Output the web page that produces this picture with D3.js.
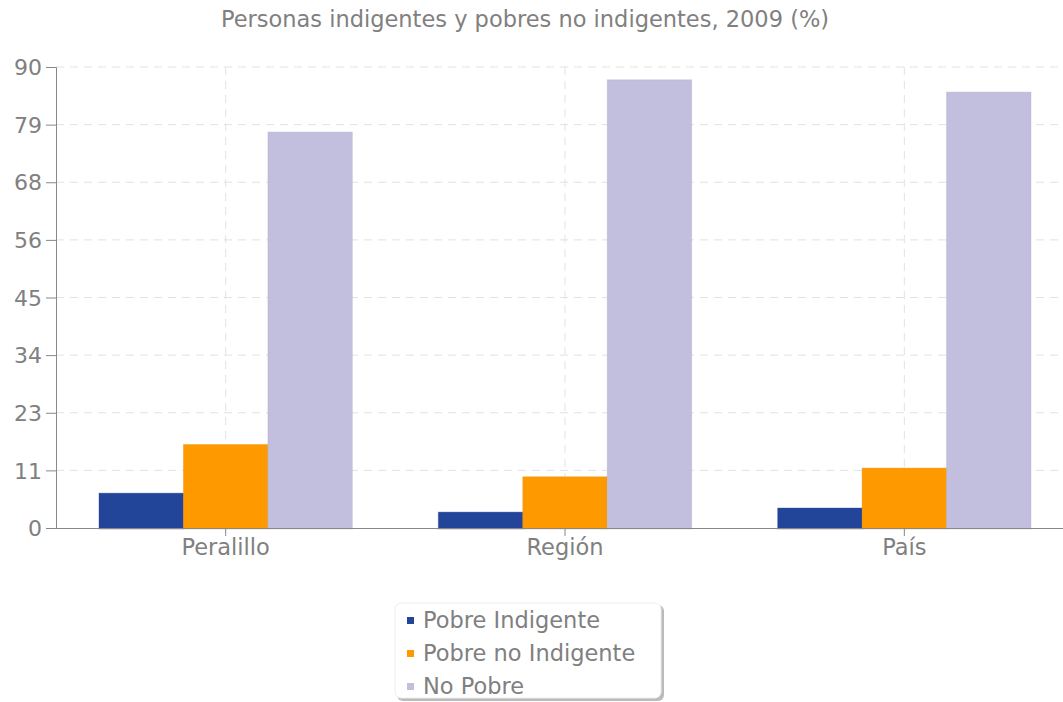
<!DOCTYPE html>
<html>
<head>
<meta charset="utf-8">
<script src="https://cdn.jsdelivr.net/npm/d3@7"></script>
<style>
  body { margin: 0; background: #fff; }
  text { font-family: "DejaVu Sans", Verdana, sans-serif; fill: #808080; }
</style>
</head>
<body>
<div id="chart"></div>
<script>
// Data
var categories = ["Peralillo", "Región", "País"];
var seriesNames = ["Pobre Indigente", "Pobre no Indigente", "No Pobre"];
var pobreIndigente = [6.8, 3.1, 3.9];
var pobreNoIndigente = [16.3, 10.0, 11.7];
var noPobre = [77.3, 87.5, 85.1];
var tickValues = [0, 11.25, 22.5, 33.75, 45, 56.25, 67.5, 78.75, 90];
var colors = ["#224499", "#ff9900", "#c2bedd"];

var series = [pobreIndigente, pobreNoIndigente, noPobre];

// Chart area
var svgWidth = 1063;
var svgHeight = 702;
var margin = { top: 67, right: -11, bottom: 174, left: 56 };
var width = svgWidth - margin.left - margin.right;
var height = svgHeight - margin.top - margin.bottom;

var svg = d3.select("#chart")
  .append("svg")
  .attr("width", svgWidth)
  .attr("height", svgHeight);

svg.append("text")
  .attr("x", 525)
  .attr("y", 27)
  .attr("text-anchor", "middle")
  .style("font-size", "22.5px")
  .text("Personas indigentes y pobres no indigentes, 2009 (%)");

var chartGroup = svg.append("g")
  .attr("transform", `translate(${margin.left}, ${margin.top})`);

// Scales
var x0 = d3.scaleBand()
  .domain(categories)
  .range([0, width])
  .paddingInner(0)
  .paddingOuter(0);

var x1 = d3.scaleBand()
  .domain(seriesNames)
  .range([43, x0.bandwidth() - 43]);

var y = d3.scaleLinear()
  .domain([0, 90])
  .range([height, 0]);

// Grid
chartGroup.append("g")
  .selectAll("line")
  .data(tickValues.slice(1))
  .enter()
  .append("line")
  .attr("x1", 0)
  .attr("x2", width)
  .attr("y1", d => y(d))
  .attr("y2", d => y(d))
  .attr("stroke", "#e2e2e2")
  .attr("stroke-dasharray", "8,6");

chartGroup.append("g")
  .selectAll("line")
  .data(categories)
  .enter()
  .append("line")
  .attr("x1", d => x0(d) + x0.bandwidth() / 2)
  .attr("x2", d => x0(d) + x0.bandwidth() / 2)
  .attr("y1", 0)
  .attr("y2", height)
  .attr("stroke", "#e2e2e2")
  .attr("stroke-dasharray", "8,6");

// Bars
var groups = chartGroup.selectAll(".cat")
  .data(categories)
  .enter()
  .append("g")
  .attr("class", "cat")
  .attr("transform", d => `translate(${x0(d)}, 0)`);

groups.selectAll("rect")
  .data(function(d, i) {
    return series.map(function(s, j) {
      return { name: seriesNames[j], value: s[i], color: colors[j] };
    });
  })
  .enter()
  .append("rect")
  .attr("x", d => x1(d.name))
  .attr("y", d => y(d.value))
  .attr("width", x1.bandwidth())
  .attr("height", d => height - y(d.value) + 1)
  .attr("fill", d => d.color)
  .attr("stroke", d => d3.color(d.color).darker(0.3))
  .attr("stroke-opacity", 0.35)
  .attr("stroke-width", 1);

// Axes
var leftAxis = d3.axisLeft(y)
  .tickValues(tickValues)
  .tickFormat(d3.format(".0f"))
  .tickSize(10)
  .tickPadding(4);

var yAxisG = chartGroup.append("g").call(leftAxis);
yAxisG.select(".domain").attr("stroke", "#888").attr("d", `M-10,0.5H0.5V${height}`);
yAxisG.selectAll(".tick line").attr("stroke", "#888").attr("x1", 0).attr("x2", -10);
yAxisG.selectAll(".tick text")
  .style("font-size", "22px")
  .attr("fill", "#888")
  .attr("dy", "0.35em");

var bottomAxis = d3.axisBottom(x0)
  .tickSize(8)
  .tickPadding(3);

var xAxisG = chartGroup.append("g")
  .attr("transform", `translate(0, ${height})`)
  .call(bottomAxis);
xAxisG.select(".domain").attr("stroke", "#888").attr("d", `M0,0.5H${width}`);
xAxisG.selectAll(".tick line").attr("stroke", "#888");
xAxisG.selectAll(".tick text")
  .style("font-size", "22.5px")
  .attr("fill", "#888");

// Legend
var legend = svg.append("g").attr("transform", "translate(395, 603)");

legend.append("rect")
  .attr("x", 2)
  .attr("y", 2)
  .attr("width", 267)
  .attr("height", 96)
  .attr("rx", 6)
  .attr("fill", "#bbb");

legend.append("rect")
  .attr("x", 0)
  .attr("y", 0)
  .attr("width", 266)
  .attr("height", 95)
  .attr("rx", 6)
  .attr("fill", "#fff")
  .attr("stroke", "#eee");

var items = legend.selectAll(".item")
  .data(seriesNames)
  .enter()
  .append("g")
  .attr("class", "item")
  .attr("transform", (d, i) => `translate(12, ${17 + i * 33})`);

items.append("rect")
  .attr("x", 0)
  .attr("y", -3)
  .attr("width", 7)
  .attr("height", 7)
  .attr("fill", (d, i) => colors[i]);

items.append("text")
  .attr("x", 16)
  .attr("y", 0)
  .attr("dy", "0.35em")
  .style("font-size", "22.5px")
  .text(d => d);
</script>
</body>
</html>
